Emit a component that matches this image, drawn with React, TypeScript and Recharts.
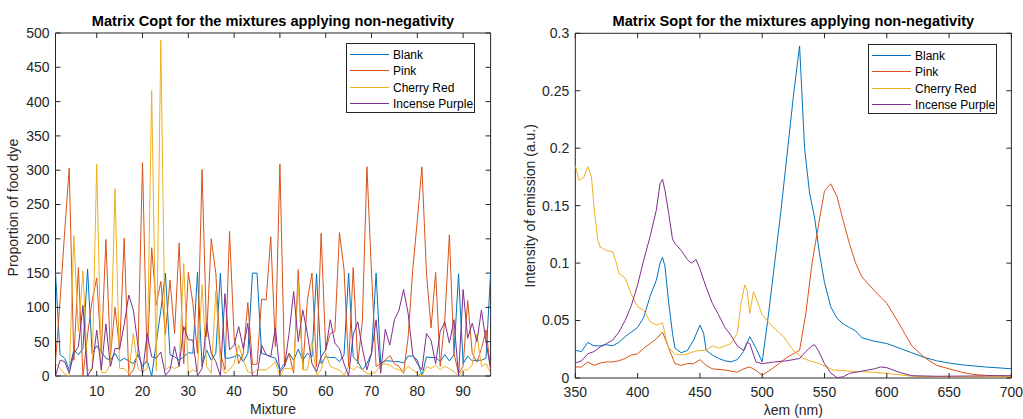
import { LineChart, Line, XAxis, YAxis, Legend, ReferenceArea } from 'recharts';

// ---- left panel: Copt, one value per mixture (1..96) ----
const BLANK_C = [
  150, 31, 26, 9, 38, 31, 40, 156, 33, 44,
  35, 26, 23, 33, 21, 26, 22, 18, 31, 14,
  23, 0, 48, 96, 150, 31, 28, 23, 28, 34,
  33, 151, 14, 38, 23, 33, 150, 26, 26, 28,
  31, 21, 33, 150, 150, 33, 31, 28, 26, 9,
  18, 33, 23, 39, 23, 33, 28, 149, 18, 28,
  27, 27, 21, 31, 150, 28, 21, 9, 18, 33,
  150, 18, 22, 22, 21, 21, 19, 29, 29, 23,
  0, 28, 27, 27, 21, 31, 22, 31, 149, 18,
  29, 22, 23, 23, 26, 151,
];
const PINK_C = [
  20, 110, 210, 303, 23, 158, 0, 60, 110, 143,
  33, 199, 30, 100, 38, 201, 0, 9, 33, 311,
  18, 187, 103, 138, 60, 140, 62, 194, 18, 151,
  106, 33, 301, 57, 200, 150, 33, 9, 211, 57,
  18, 33, 107, 17, 17, 112, 111, 203, 43, 309,
  14, 33, 4, 155, 9, 111, 150, 14, 208, 38,
  62, 65, 209, 155, 14, 158, 18, 80, 305, 150,
  14, 18, 23, 30, 18, 14, 4, 57, 155, 227,
  305, 150, 70, 151, 14, 82, 206, 33, 4, 14,
  110, 33, 20, 40, 67, 10,
];
const CHERRY_C = [
  18, 11, 3, 0, 205, 65, 153, 9, 9, 309,
  5, 5, 18, 273, 11, 11, 4, 62, 11, 6,
  10, 416, 8, 490, 9, 14, 11, 14, 164, 4,
  9, 6, 133, 14, 4, 124, 18, 4, 9, 18,
  45, 23, 6, 4, 9, 9, 9, 14, 21, 0,
  11, 11, 9, 135, 9, 9, 50, 1, 9, 33,
  14, 11, 9, 1, 14, 9, 14, 9, 4, 3,
  6, 16, 18, 16, 11, 9, 6, 14, 9, 4,
  0, 14, 11, 16, 9, 14, 11, 6, 0, 9,
  9, 16, 61, 14, 18, 4,
];
const PURPLE_C = [
  0, 23, 21, 4, 33, 43, 103, 0, 11, 67,
  9, 76, 14, 40, 40, 75, 118, 96, 45, 4,
  62, 28, 26, 35, 1, 9, 43, 14, 72, 53,
  52, 0, 11, 77, 33, 21, 0, 120, 38, 45,
  72, 40, 77, 0, 0, 45, 31, 28, 70, 6,
  14, 62, 123, 50, 96, 62, 18, 6, 28, 38,
  82, 48, 40, 18, 0, 60, 79, 40, 9, 33,
  82, 4, 68, 45, 82, 96, 126, 91, 31, 18,
  9, 62, 52, 18, 65, 79, 48, 82, 0, 126,
  55, 77, 50, 96, 50, 10,
];
const MIXTURE_TICKS = [10, 20, 30, 40, 50, 60, 70, 80, 90];
const PROPORTION_TICKS = [0, 50, 100, 150, 200, 250, 300, 350, 400, 450, 500];

// ---- right panel: Sopt spectra ----
const BLANK_WL = [350, 355, 360, 365, 370, 375, 380, 385, 390, 395, 400, 405, 410, 415, 418, 420, 422, 425, 428, 430, 435, 440, 445, 450, 453, 455, 460, 465, 470, 475, 480, 485, 490, 495, 500, 505, 510, 515, 520, 525, 530, 534, 538, 542, 546, 550, 555, 560, 565, 570, 575, 580, 590, 600, 610, 620, 630, 640, 650, 660, 670, 680, 690, 700];
const BLANK_S = [0.024, 0.023, 0.031, 0.028, 0.028, 0.029, 0.028, 0.031, 0.036, 0.04, 0.044, 0.053, 0.071, 0.085, 0.1, 0.105, 0.097, 0.065, 0.039, 0.026, 0.022, 0.024, 0.033, 0.046, 0.039, 0.024, 0.02, 0.017, 0.015, 0.014, 0.016, 0.023, 0.036, 0.026, 0.014, 0.055, 0.1, 0.145, 0.195, 0.245, 0.289, 0.2, 0.161, 0.14, 0.108, 0.083, 0.062, 0.052, 0.047, 0.044, 0.041, 0.035, 0.032, 0.03, 0.026, 0.022, 0.018, 0.015, 0.013, 0.0115, 0.0105, 0.0095, 0.0088, 0.008];
const PINK_WL = [350, 355, 360, 365, 370, 375, 380, 385, 390, 395, 400, 405, 410, 415, 420, 425, 430, 435, 440, 445, 450, 455, 460, 470, 480, 485, 490, 495, 500, 510, 520, 530, 535, 540, 545, 550, 555, 560, 565, 570, 575, 580, 590, 600, 610, 620, 630, 640, 650, 660, 670, 680, 700];
const PINK_S = [0.0096, 0.0096, 0.014, 0.011, 0.013, 0.014, 0.014, 0.015, 0.017, 0.02, 0.021, 0.026, 0.03, 0.034, 0.04, 0.026, 0.0125, 0.011, 0.0125, 0.0125, 0.016, 0.011, 0.008, 0.007, 0.005, 0.008, 0.0096, 0.0067, 0.0023, 0.0096, 0.018, 0.024, 0.056, 0.1, 0.132, 0.163, 0.169, 0.158, 0.137, 0.117, 0.1, 0.088, 0.076, 0.065, 0.047, 0.028, 0.018, 0.011, 0.008, 0.005, 0.003, 0.0023, 0.0015];
const CHERRY_WL = [350, 353, 357, 360, 363, 365, 368, 370, 375, 380, 383, 385, 390, 395, 400, 405, 410, 415, 420, 423, 425, 430, 435, 440, 445, 450, 455, 460, 465, 470, 475, 480, 483, 486, 488, 490, 493, 495, 500, 509, 517, 525, 533, 538, 546, 557, 570, 589, 600, 621, 643, 700];
const CHERRY_S = [0.185, 0.172, 0.175, 0.184, 0.175, 0.149, 0.12, 0.114, 0.111, 0.11, 0.1, 0.091, 0.087, 0.073, 0.062, 0.059, 0.049, 0.046, 0.048, 0.033, 0.026, 0.021, 0.02, 0.021, 0.023, 0.024, 0.024, 0.028, 0.026, 0.028, 0.03, 0.039, 0.065, 0.081, 0.076, 0.056, 0.075, 0.07, 0.055, 0.044, 0.036, 0.024, 0.017, 0.015, 0.0125, 0.007, 0.006, 0.005, 0.004, 0.0015, 0.001, 0.001];
const PURPLE_WL = [350, 355, 360, 365, 370, 375, 380, 385, 390, 395, 400, 405, 410, 415, 418, 420, 422, 425, 428, 430, 435, 440, 443, 447, 450, 455, 460, 465, 470, 475, 480, 485, 488, 490, 495, 500, 510, 520, 530, 535, 540, 542, 545, 550, 555, 560, 565, 570, 575, 580, 590, 595, 600, 610, 620, 640, 700];
const PURPLE_S = [0.013, 0.015, 0.021, 0.023, 0.027, 0.03, 0.033, 0.04, 0.05, 0.063, 0.081, 0.103, 0.123, 0.146, 0.169, 0.173, 0.163, 0.143, 0.121, 0.117, 0.111, 0.103, 0.1, 0.103, 0.095, 0.079, 0.065, 0.055, 0.044, 0.037, 0.028, 0.024, 0.031, 0.03, 0.014, 0.0125, 0.014, 0.015, 0.017, 0.023, 0.028, 0.029, 0.024, 0.0125, 0.0044, 0.0003, 0.001, 0.004, 0.005, 0.006, 0.008, 0.0096, 0.009, 0.005, 0.002, 0.0015, 0.002];
const WL_TICKS = [350, 400, 450, 500, 550, 600, 650, 700];
const INTENSITY_TICKS = [0, 0.05, 0.1, 0.15, 0.2, 0.25, 0.3];

// MATLAB default colour order
const COLORS = ['#0072BD', '#D95319', '#EDB120', '#7E2F8E'];
const NAMES = ['Blank', 'Pink', 'Cherry Red', 'Incense Purple'];
const AX = '#262626';
const FONT = '"Liberation Sans", Arial, Helvetica, sans-serif';

const coptRows = BLANK_C.map((_, i) => ({
  mixture: i + 1,
  Blank: BLANK_C[i],
  Pink: PINK_C[i],
  'Cherry Red': CHERRY_C[i],
  'Incense Purple': PURPLE_C[i],
}));

const toRows = (wl: number[], s: number[]) => wl.map((w, i) => ({ wl: w, v: s[i] }));
const sopt = [
  toRows(BLANK_WL, BLANK_S),
  toRows(PINK_WL, PINK_S),
  toRows(CHERRY_WL, CHERRY_S),
  toRows(PURPLE_WL, PURPLE_S),
];

// inward ticks on all four sides (box style)
function makeXTick(plotH: number, gap: number) {
  return (props: any) => {
    const { x, y, payload } = props;
    return (
      <g>
        <line x1={x} x2={x} y1={y} y2={y - 5} stroke={AX} />
        <line x1={x} x2={x} y1={y - plotH} y2={y - plotH + 5} stroke={AX} />
        <text x={x} y={y + gap} textAnchor="middle" fill={AX} fontSize={14} fontFamily={FONT}>
          {payload.value}
        </text>
      </g>
    );
  };
}

function makeYTick(plotW: number, fmt: (v: number) => string) {
  return (props: any) => {
    const { x, y, payload } = props;
    return (
      <g>
        <line x1={x} x2={x + 5} y1={y} y2={y} stroke={AX} />
        <line x1={x + plotW - 5} x2={x + plotW} y1={y} y2={y} stroke={AX} />
        <text x={x - 6} y={y} dy="0.35em" textAnchor="end" fill={AX} fontSize={14} fontFamily={FONT}>
          {fmt(payload.value)}
        </text>
      </g>
    );
  };
}

// keep the series order, not the alphabetical one
const renderLegend = (props: any) => {
  const items = [...(props.payload || [])].sort(
    (a: any, b: any) => NAMES.indexOf(a.value) - NAMES.indexOf(b.value)
  );
  return (
    <svg width={129} height={70} style={{ display: 'block' }}>
      <rect x={0.5} y={0.5} width={128} height={69} fill="#fff" stroke={AX} />
      {items.map((entry: any, k: number) => {
        const cy = Math.round(11 + k * 16.4) + 0.5;
        return (
          <g key={entry.value}>
            <line x1={4} x2={43} y1={cy} y2={cy} stroke={COLORS[NAMES.indexOf(entry.value)]} strokeWidth={1} />
            <text x={47} y={cy} dy="0.35em" fontSize={12} fontFamily={FONT} fill="#000">
              {entry.value}
            </text>
          </g>
        );
      })}
    </svg>
  );
};

export default function App() {
  const leftW = 490.6 - 55.5;
  const leftH = 376 - 33;
  const rightW = 1011.4 - 575.3;
  const rightH = 378 - 33.3;

  return (
    <div style={{ position: 'absolute', left: 0, top: 0, width: 1023, height: 419, background: '#fff', overflow: 'hidden' }}>
      <div style={{ position: 'absolute', left: 0, top: 0 }}>
        <LineChart width={511} height={419} data={coptRows} margin={{ top: 33, right: 20.4, bottom: 13, left: 10.5 }}>
          <XAxis
            dataKey="mixture"
            type="number"
            domain={[1, 96]}
            ticks={MIXTURE_TICKS}
            interval={0}
            height={30}
            axisLine={false}
            tickLine={false}
            tickSize={0}
            tickMargin={0}
            tick={makeXTick(leftH, 20)}
            allowDataOverflow
          />
          <YAxis
            type="number"
            domain={[0, 500]}
            ticks={PROPORTION_TICKS}
            interval={0}
            width={45}
            axisLine={false}
            tickLine={false}
            tickSize={0}
            tickMargin={0}
            tick={makeYTick(leftW, (v) => String(v))}
            allowDataOverflow
          />
          <ReferenceArea x1={1} x2={96} y1={0} y2={500} fill="none" stroke={AX} strokeWidth={1} />
          {NAMES.map((n, i) => (
            <Line key={n} type="linear" dataKey={n} name={n} stroke={COLORS[i]} strokeWidth={1} dot={false} isAnimationActive={false} />
          ))}
          <Legend
            layout="vertical"
            align="center"
            verticalAlign="middle"
            content={renderLegend}
            wrapperStyle={{ left: 346, top: 43, width: 129, height: 70 }}
          />
        </LineChart>
      </div>

      <div style={{ position: 'absolute', left: 511, top: 0 }}>
        <LineChart width={512} height={419} margin={{ top: 33.3, right: 11.6, bottom: 11, left: 14.3 }}>
          <XAxis
            dataKey="wl"
            type="number"
            domain={[350, 700]}
            ticks={WL_TICKS}
            interval={0}
            height={30}
            axisLine={false}
            tickLine={false}
            tickSize={0}
            tickMargin={0}
            tick={makeXTick(rightH, 19)}
            allowDataOverflow
          />
          <YAxis
            type="number"
            domain={[0, 0.3]}
            ticks={INTENSITY_TICKS}
            interval={0}
            width={50}
            axisLine={false}
            tickLine={false}
            tickSize={0}
            tickMargin={0}
            tick={makeYTick(rightW, (v) => String(+Number(v).toFixed(2)))}
            allowDataOverflow
          />
          <ReferenceArea x1={350} x2={700} y1={0} y2={0.3} fill="none" stroke={AX} strokeWidth={1} />
          {NAMES.map((n, i) => (
            <Line key={n} type="linear" data={sopt[i]} dataKey="v" name={n} stroke={COLORS[i]} strokeWidth={1} dot={false} isAnimationActive={false} />
          ))}
          <Legend
            layout="vertical"
            align="center"
            verticalAlign="middle"
            content={renderLegend}
            wrapperStyle={{ left: 357, top: 44, width: 129, height: 70 }}
          />
        </LineChart>
      </div>

      <svg width={1023} height={419} style={{ position: 'absolute', left: 0, top: 0, pointerEvents: 'none' }}>
        <g fontFamily={FONT} fill="#000">
          <text x={273} y={25.7} textAnchor="middle" fontSize={14.6} fontWeight="bold">
            Matrix Copt for the mixtures applying non-negativity
          </text>
          <text x={793.4} y={25.7} textAnchor="middle" fontSize={14.6} fontWeight="bold">
            Matrix Sopt for the mixtures applying non-negativity
          </text>
        </g>
        <g fontFamily={FONT} fill={AX} fontSize={14}>
          <text x={273} y={414} textAnchor="middle">Mixture</text>
          <text x={793.4} y={414.5} textAnchor="middle">λem (nm)</text>
          <text x={18} y={207.5} textAnchor="middle" transform="rotate(-90 18 207.5)">Proportion of food dye</text>
          <text x={535.5} y={205.8} textAnchor="middle" transform="rotate(-90 535.5 205.8)">Intensity of emission (a.u.)</text>
        </g>
      </svg>
    </div>
  );
}
